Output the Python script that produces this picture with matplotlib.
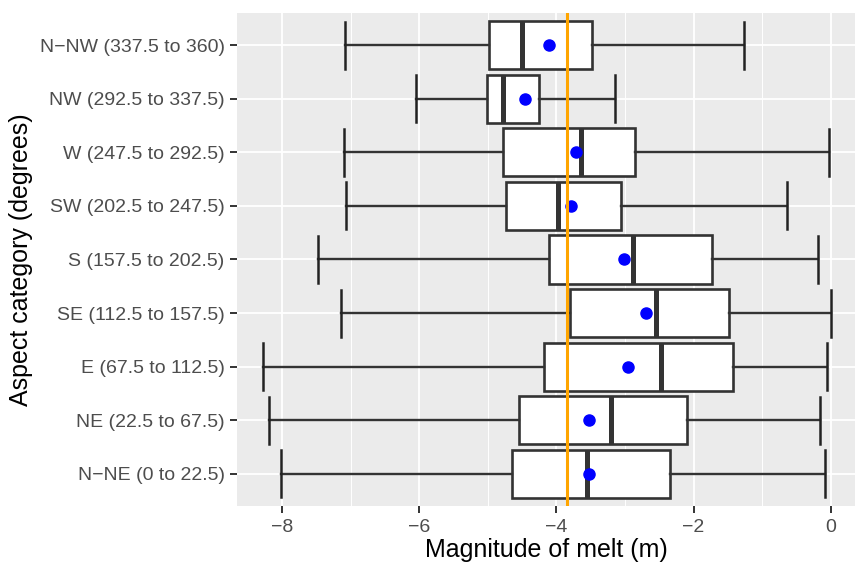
import matplotlib
matplotlib.use("Agg")
import matplotlib.pyplot as plt
from matplotlib.ticker import MultipleLocator

plt.rcParams['font.family'] = ['Liberation Sans', 'DejaVu Sans']

# categories bottom -> top
categories = ["N\u2212NE (0 to 22.5)", "NE (22.5 to 67.5)", "E (67.5 to 112.5)",
              "SE (112.5 to 157.5)", "S (157.5 to 202.5)", "SW (202.5 to 247.5)",
              "W (247.5 to 292.5)", "NW (292.5 to 337.5)", "N\u2212NW (337.5 to 360)"]
whisker_low = [-8.02, -8.19, -8.27, -7.14, -7.48, -7.06, -7.10, -6.05, -7.08]
q1 = [-4.65, -4.54, -4.18, -3.80, -4.10, -4.73, -4.78, -5.01, -4.98]
medians = [-3.56, -3.21, -2.47, -2.54, -2.88, -3.98, -3.64, -4.78, -4.50]
q3 = [-2.34, -2.09, -1.42, -1.48, -1.73, -3.06, -2.86, -4.25, -3.48]
whisker_high = [-0.09, -0.15, -0.05, 0.0, -0.19, -0.63, -0.03, -3.14, -1.27]
means = [-3.53, -3.53, -2.96, -2.69, -3.02, -3.78, -3.71, -4.45, -4.11]
overall_mean = -3.85

W, H = 855, 568
fig = plt.figure(figsize=(W / 100, H / 100), dpi=100)
ax = fig.add_axes([237 / W, 1 - 506 / H, (W - 237) / W, (506 - 13) / H])
ax.set_facecolor("#EBEBEB")
for s in ax.spines.values():
    s.set_visible(False)

stats = []
for i in range(len(categories)):
    stats.append(dict(med=medians[i], q1=q1[i], q3=q3[i], whislo=whisker_low[i],
                      whishi=whisker_high[i], mean=means[i], fliers=[]))

pos = list(range(1, len(categories) + 1))
ax.bxp(stats, positions=pos, widths=0.9, capwidths=0.88, orientation='horizontal',
       patch_artist=True, showmeans=False, zorder=3,
       boxprops=dict(facecolor="white", edgecolor="#333333", linewidth=1.9),
       medianprops=dict(color="#333333", linewidth=3.6, solid_capstyle='butt'),
       whiskerprops=dict(color="#333333", linewidth=1.7),
       capprops=dict(color="#222222", linewidth=1.8))
ax.plot(means, pos, 'o', color="blue", markersize=8, zorder=4)
ax.axvline(overall_mean, color="orange", linewidth=2.2, zorder=5)

ax.set_xlim(-8.655, 0.354)
ax.set_ylim(0.4, len(categories) + 0.6)
ax.set_yticks(pos)
ax.set_yticklabels(categories)
ax.xaxis.set_major_locator(MultipleLocator(2))
ax.xaxis.set_minor_locator(MultipleLocator(1))
ax.set_xticks([-8, -6, -4, -2, 0])
ax.set_xticklabels(["\u22128", "\u22126", "\u22124", "\u22122", "0"])

ax.grid(which='major', color="white", linewidth=1.3, zorder=0)
ax.grid(which='minor', axis='x', color="white", linewidth=0.7, zorder=0)
ax.set_axisbelow(True)
ax.tick_params(which='major', length=5, width=1.4, color="#333333",
               labelsize=14, labelcolor="#4D4D4D", pad=4)
ax.tick_params(which='minor', length=0)

ax.set_xlabel("Magnitude of melt (m)", fontsize=18, labelpad=2)
ax.set_ylabel("Aspect category (degrees)", fontsize=18, labelpad=5)

fig.savefig("out.png", dpi=100)
